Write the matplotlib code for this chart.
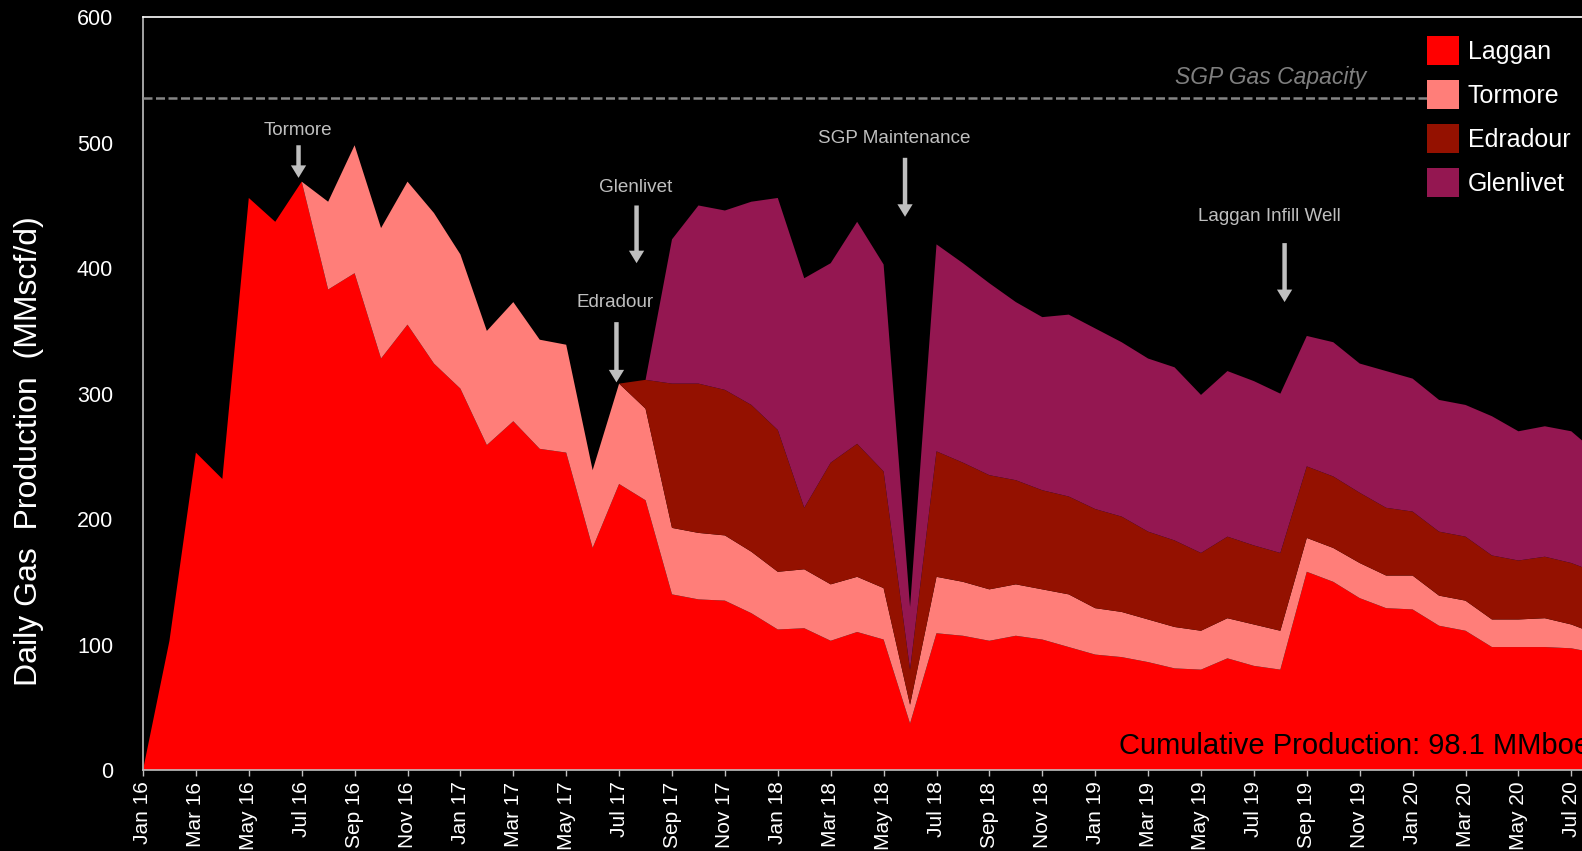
import numpy as np
import matplotlib
matplotlib.use("Agg")
import matplotlib.pyplot as plt
from matplotlib.patches import Patch

plt.rcParams['font.family'] = ['Liberation Sans', 'DejaVu Sans']

# ---- data (MMscf/d), monthly Jan 16 .. Aug 20 ----
laggan = [0, 103, 253, 232, 456, 437, 469, 383, 396, 328, 355, 324,
          304, 259, 278, 256, 253, 177, 228, 215, 140, 136, 135, 125,
          112, 113, 103, 110, 104, 37, 109, 107, 103, 107, 104, 98,
          92, 90, 86, 81, 80, 89, 83, 80, 158, 150, 137, 129,
          128, 115, 111, 98, 98, 98, 97, 93]
tormore = [0, 0, 0, 0, 0, 0, 0, 70, 102, 104, 114, 120,
           107, 91, 95, 87, 86, 62, 80, 73, 53, 53, 52, 49,
           46, 47, 45, 44, 41, 15, 45, 43, 41, 41, 40, 42,
           37, 36, 34, 33, 31, 32, 33, 31, 27, 27, 28, 26,
           27, 24, 24, 22, 22, 23, 19, 15]
edradour = [0, 0, 0, 0, 0, 0, 0, 0, 0, 0, 0, 0,
            0, 0, 0, 0, 0, 0, 0, 23, 115, 119, 116, 117,
            113, 49, 97, 106, 93, 28, 100, 95, 91, 83, 79, 78,
            79, 76, 70, 69, 62, 65, 63, 62, 57, 57, 56, 54,
            51, 51, 51, 51, 47, 49, 49, 49]
glenlivet = [0, 0, 0, 0, 0, 0, 0, 0, 0, 0, 0, 0,
             0, 0, 0, 0, 0, 0, 0, 0, 115, 142, 143, 162,
             185, 183, 159, 177, 165, 50, 165, 159, 153, 142, 138, 145,
             144, 139, 138, 138, 126, 132, 131, 127, 104, 107, 103, 109,
             106, 105, 105, 111, 103, 104, 105, 95]

series_names = ['Laggan', 'Tormore', 'Edradour', 'Glenlivet']
series_colors = ['#FF0000', '#FF7E79', '#941100', '#941751']

tick_labels = ['Jan 16', 'Mar 16', 'May 16', 'Jul 16', 'Sep 16', 'Nov 16',
               'Jan 17', 'Mar 17', 'May 17', 'Jul 17', 'Sep 17', 'Nov 17',
               'Jan 18', 'Mar 18', 'May 18', 'Jul 18', 'Sep 18', 'Nov 18',
               'Jan 19', 'Mar 19', 'May 19', 'Jul 19', 'Sep 19', 'Nov 19',
               'Jan 20', 'Mar 20', 'May 20', 'Jul 20']
tick_months = [0, 2, 4, 6, 8, 10, 12, 14, 16, 18, 20, 22, 24, 26, 28, 30,
               32, 34, 36, 38, 40, 42, 44, 46, 48, 50, 52, 54]

capacity = 536

# annotations: (label, text month, text value, arrow month, arrow tail, arrow tip)
events = [('Tormore', 5.84, 510, 5.88, 498, 472),
          ('Glenlivet', 18.62, 464, 18.66, 450, 404),
          ('Edradour', 17.86, 373, 17.90, 357, 309),
          ('SGP Maintenance', 28.39, 503, 28.81, 488, 441),
          ('Laggan Infill Well', 42.6, 441, 43.16, 420, 373)]

# ---- figure ----
fig = plt.figure(figsize=(15.82, 8.51), dpi=100, facecolor='black')
ax = fig.add_axes([143/1582, 1 - 770/851, 1 - 143/1582, (770 - 17.3)/851])
ax.set_facecolor('black')

x = np.arange(len(laggan))
ax.stackplot(x, laggan, tormore, edradour, glenlivet,
             colors=series_colors, linewidth=0, antialiased=True, zorder=2)

ax.axhline(capacity, xmax=(1427 - 143) / 1439, color='#858585', lw=1.8,
           ls=(0, (3.6, 1.4)), zorder=3)
ax.text(42.65, 552, 'SGP Gas Capacity', color='#7F7F7F', fontsize=16.5,
        style='italic', ha='center', va='center', zorder=4)

for label, tx, ty, axx, tail, tip in events:
    ax.text(tx, ty, label, color='#BFBFBF', fontsize=13.6, ha='center',
            va='center', zorder=5)
    ax.annotate('', xy=(axx, tip), xytext=(axx, tail),
                arrowprops=dict(arrowstyle='simple,head_length=9,head_width=11,tail_width=3.2',
                                color='#BFBFBF', shrinkA=0, shrinkB=0,
                                mutation_scale=1, lw=0), zorder=5)

ax.set_xlim(0, (1582 - 143) / 26.45)
ax.set_ylim(0, 600)
ax.set_yticks([0, 100, 200, 300, 400, 500, 600])
ax.set_xticks(tick_months)
ax.set_xticklabels(tick_labels, rotation=90)
ax.tick_params(axis='y', length=0, pad=21.5, labelsize=15.5, labelcolor='white')
ax.tick_params(axis='x', length=4.3, width=1, color='#BFBFBF', pad=4,
               labelsize=15, labelcolor='white')

for side in ['left', 'bottom']:
    ax.spines[side].set_color('#BFBFBF')
    ax.spines[side].set_linewidth(1.2)
ax.spines['top'].set_color('white')
ax.spines['top'].set_linewidth(1.2)
ax.spines['right'].set_visible(False)

ax.set_ylabel('Daily Gas  Production  (MMscf/d)', color='white',
              fontsize=23, va='center')
ax.yaxis.set_label_coords(-0.0792, 0.424)

ax.text(0.678, 0.032, 'Cumulative Production: 98.1 MMboe', transform=ax.transAxes,
        color='black', fontsize=21, ha='left', va='center', zorder=6)

handles = [Patch(facecolor=c, edgecolor='none') for c in series_colors]
leg = ax.legend(handles, series_names, loc='upper left',
                bbox_to_anchor=(1427/1582, 1 - 36/851),
                bbox_transform=fig.transFigure, fontsize=18,
                handlelength=1.28, handleheight=1.4, labelspacing=0.61,
                handletextpad=0.35, borderpad=0, borderaxespad=0,
                frameon=True, facecolor='black', edgecolor='none',
                framealpha=1, fancybox=False)
for t in leg.get_texts():
    t.set_color('white')
leg.set_zorder(10)

fig.savefig('out.png', dpi=100, facecolor='black')
